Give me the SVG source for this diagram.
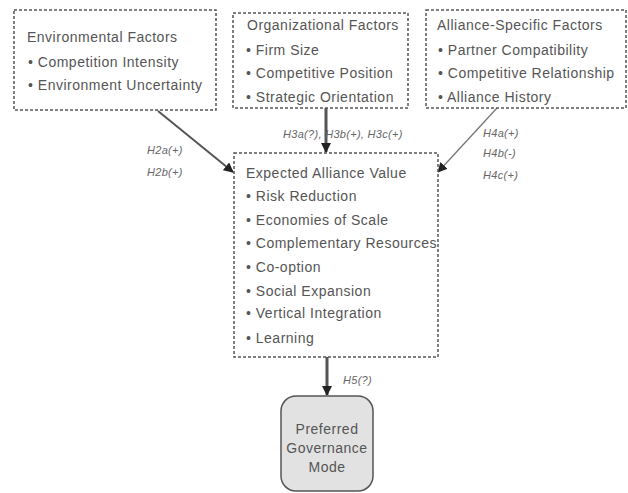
<svg xmlns="http://www.w3.org/2000/svg" width="628" height="493" viewBox="0 0 628 493">
<style>
  .box { fill: #ffffff; stroke: #555555; stroke-width: 1.5; stroke-dasharray: 3 2; }
  .gov { fill: #e2e2e2; stroke: #555555; stroke-width: 1.5; }
  .t { font-family: "Liberation Sans", Arial, sans-serif; font-size: 14px; fill: #555555; letter-spacing: 0.5px; }
  .lbl { font-family: "Liberation Sans", Arial, sans-serif; font-size: 11px; font-style: italic; fill: #666666; letter-spacing: 0.3px; }
  .thick { stroke: #555555; stroke-width: 3; fill: none; }
  .diag { stroke: #555555; stroke-width: 2; fill: none; }
  .thin { stroke: #777777; stroke-width: 1.3; fill: none; }
</style>
<defs>
  <marker id="ah" viewBox="0 0 10 10" refX="9" refY="5" markerWidth="10" markerHeight="10" markerUnits="userSpaceOnUse" orient="auto">
    <path d="M0,0 L10,5 L0,10 z" fill="#222222"/>
  </marker>
</defs>
<rect width="628" height="493" fill="#ffffff"/>

<g id="connectors">
  <line class="diag" x1="158" y1="111" x2="233" y2="172" marker-end="url(#ah)"/>
  <line class="thick" x1="326" y1="108" x2="326" y2="152" marker-end="url(#ah)"/>
  <line class="thin" x1="497" y1="108" x2="438" y2="172" marker-end="url(#ah)"/>
  <line class="thick" x1="327" y1="357" x2="327" y2="395" marker-end="url(#ah)"/>
  <text class="lbl" x="147" y="154">H2a(+)</text>
  <text class="lbl" x="147" y="176">H2b(+)</text>
  <text class="lbl" x="283" y="138">H3a(?), H3b(+), H3c(+)</text>
  <text class="lbl" x="483" y="137">H4a(+)</text>
  <text class="lbl" x="483" y="157">H4b(-)</text>
  <text class="lbl" x="483" y="179">H4c(+)</text>
  <text class="lbl" x="343" y="384">H5(?)</text>
</g>

<g id="environmental">
  <rect class="box" x="14" y="10" width="202" height="100"/>
  <text class="t" x="27" y="42">Environmental Factors</text>
  <text class="t" x="28" y="67">• Competition Intensity</text>
  <text class="t" x="28" y="90">• Environment Uncertainty</text>
</g>

<g id="organizational">
  <rect class="box" x="233" y="13" width="175" height="95"/>
  <text class="t" x="247" y="30">Organizational Factors</text>
  <text class="t" x="246" y="55">• Firm Size</text>
  <text class="t" x="246" y="78">• Competitive Position</text>
  <text class="t" x="246" y="102">• Strategic Orientation</text>
</g>

<g id="alliance">
  <rect class="box" x="426" y="10" width="200" height="98"/>
  <text class="t" x="437" y="30">Alliance-Specific Factors</text>
  <text class="t" x="438" y="55">• Partner Compatibility</text>
  <text class="t" x="438" y="78">• Competitive Relationship</text>
  <text class="t" x="438" y="102">• Alliance History</text>
</g>

<g id="expected">
  <rect class="box" x="234" y="153" width="204" height="204"/>
  <text class="t" x="246" y="178">Expected Alliance Value</text>
  <text class="t" x="246" y="201">• Risk Reduction</text>
  <text class="t" x="246" y="225">• Economies of Scale</text>
  <text class="t" x="246" y="248">• Complementary Resources</text>
  <text class="t" x="246" y="272">• Co-option</text>
  <text class="t" x="246" y="296">• Social Expansion</text>
  <text class="t" x="246" y="318">• Vertical Integration</text>
  <text class="t" x="246" y="343">• Learning</text>
</g>

<g id="governance">
  <rect class="gov" x="281" y="396" width="92" height="95" rx="15" ry="15"/>
  <text class="t" x="327" y="434" text-anchor="middle">Preferred</text>
  <text class="t" x="327" y="453" text-anchor="middle">Governance</text>
  <text class="t" x="327" y="472" text-anchor="middle">Mode</text>
</g>
</svg>
